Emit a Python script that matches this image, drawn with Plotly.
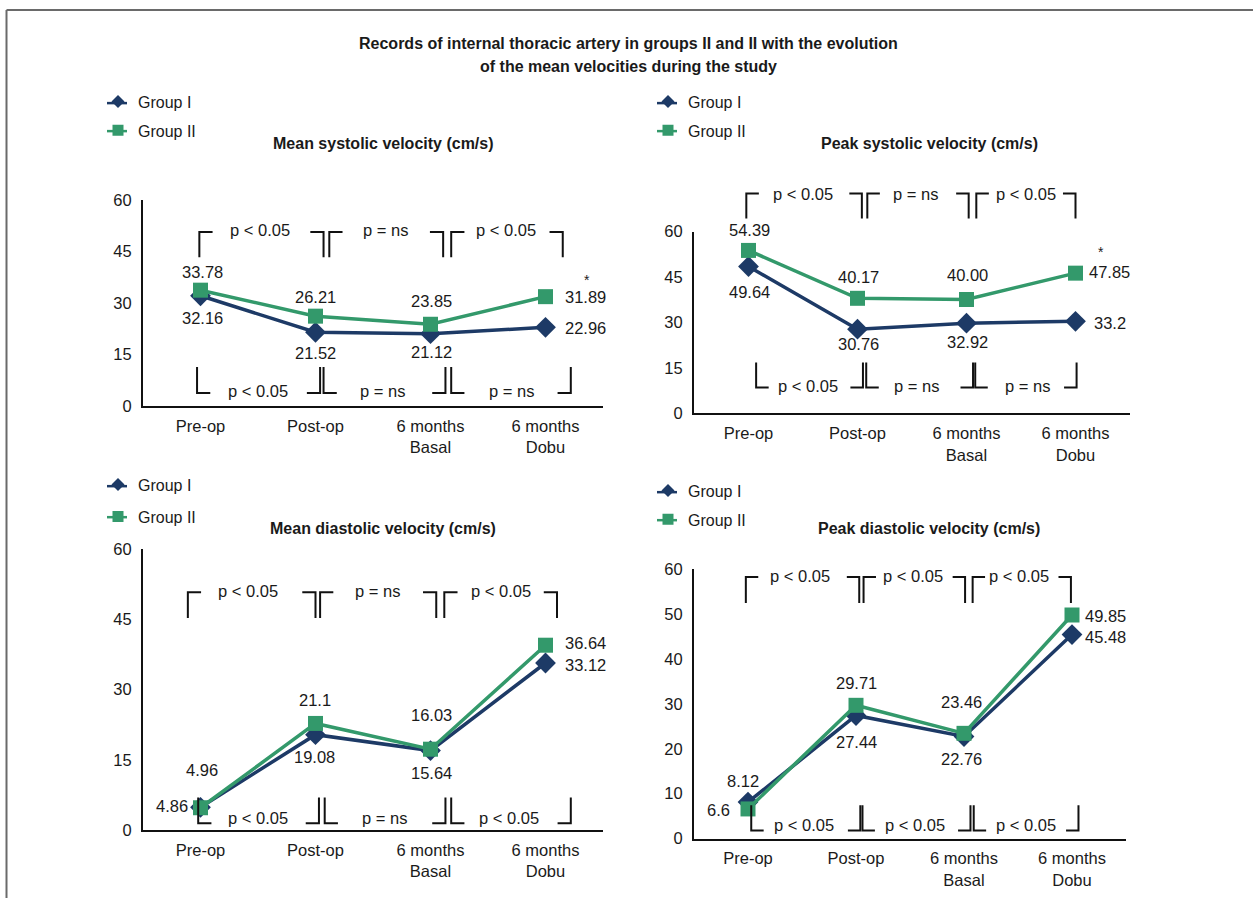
import plotly.graph_objects as go

# ---------------- data ----------------
categories = ["Pre-op", "Post-op", "6 months<br>Basal", "6 months<br>Dobu"]
groups = ["Group I", "Group II"]

# Mean systolic velocity
ms_g1 = [32.16, 21.52, 21.12, 22.96]
ms_g2 = [33.78, 26.21, 23.85, 31.89]
ms_g1_labels = ["32.16", "21.52", "21.12", "22.96"]
ms_g2_labels = ["33.78", "26.21", "23.85", "31.89"]

# Peak systolic velocity (plotted positions)
ps_g1 = [48.5, 27.8, 29.8, 30.4]
ps_g2 = [53.8, 38.0, 37.6, 46.3]
ps_g1_labels = ["49.64", "30.76", "32.92", "33.2"]
ps_g2_labels = ["54.39", "40.17", "40.00", "47.85"]

# Mean diastolic velocity
md_g1 = [4.9, 20.4, 17.0, 35.7]
md_g2 = [4.8, 22.8, 17.3, 39.5]
md_g1_labels = ["4.86", "19.08", "15.64", "33.12"]
md_g2_labels = ["4.96", "21.1", "16.03", "36.64"]

# Peak diastolic velocity
pd_g1 = [8.12, 27.44, 22.76, 45.48]
pd_g2 = [6.6, 29.71, 23.46, 49.85]
pd_g1_labels = ["8.12", "27.44", "22.76", "45.48"]
pd_g2_labels = ["6.6", "29.71", "23.46", "49.85"]

titles = ["Mean systolic velocity (cm/s)", "Peak systolic velocity (cm/s)",
          "Mean diastolic velocity (cm/s)", "Peak diastolic velocity (cm/s)"]
main_title = ["Records of internal thoracic artery in groups II and II with the evolution",
              "of the mean velocities during the study"]

ticks_15 = [0, 15, 30, 45, 60]
ticks_10 = [0, 10, 20, 30, 40, 50, 60]

ms_top_p = ["p < 0.05", "p = ns", "p < 0.05"]
ms_bot_p = ["p < 0.05", "p = ns", "p = ns"]
ps_top_p = ["p < 0.05", "p = ns", "p < 0.05"]
ps_bot_p = ["p < 0.05", "p = ns", "p = ns"]
md_top_p = ["p < 0.05", "p = ns", "p < 0.05"]
md_bot_p = ["p < 0.05", "p = ns", "p < 0.05"]
pd_top_p = ["p < 0.05", "p < 0.05", "p < 0.05"]
pd_bot_p = ["p < 0.05", "p < 0.05", "p < 0.05"]

# ---------------- styling ----------------
W, H = 1253, 907
# vertical calibration of the photographed page: shown_row = VA + VB * page_row
VA, VB = 8.9, 0.980
NAVY = "#1D3A66"
GREEN = "#33996B"
TXT = "#1a1a1a"
FONT = "Liberation Sans, Arial"
CFS = 16.5
LFONT = "Liberation Sans, Arial"


def prow(y_px):
    """target row -> page row"""
    return (y_px - VA) / VB


def pyp(y_px):
    """target row -> paper fraction"""
    return 1 - prow(y_px) / H


def sh(d):
    """target pixel offset -> page pixel offset"""
    return d / VB


# pixel boxes of plot areas: x0, x1, ytop, ybottom (target pixels)
boxes = [(143, 603, 200, 406), (694, 1130, 231.5, 413.3),
         (143, 603, 549, 830), (694, 1126, 569.3, 838.3)]
xr = [-0.5, 3.5]
yr = [0, 60]

panels = [
    dict(g1=ms_g1, g2=ms_g2, l1=ms_g1_labels, l2=ms_g2_labels, ticks=ticks_15,
         o1=[(2, -22, "center"), (0, -20, "center"), (1, -18, "center"), (17, -1, "left")],
         o2=[(2, 18, "center"), (0, 19, "center"), (1, 23, "center"), (17, 0, "left")],
         top=dict(yh=50.7, yv=43.4, xs=[(-0.01, 1.07), (1.12, 2.11), (2.18, 3.15)],
                  tx=[0.52, 1.61, 2.66], ty=51.2, labels=ms_top_p),
         bot=dict(yh=3.8, yv=11.4, xs=[(-0.03, 1.04), (1.07, 2.13), (2.18, 3.22)],
                  tx=[0.50, 1.58, 2.70], ty=4.4, labels=ms_bot_p),
         star=(3.36, 39.7), title_xy=(383, 143), leg=(117, 103, 131)),
    dict(g1=ps_g1, g2=ps_g2, l1=ps_g1_labels, l2=ps_g2_labels, ticks=ticks_15,
         o1=[(1, -25, "center"), (1, -14, "center"), (1, -18, "center"), (16, -2, "left")],
         o2=[(1, 20, "center"), (1, 21, "center"), (1, 24, "center"), (11, 1, "left")],
         top=dict(yh=72.6, yv=64.3, xs=[(-0.02, 1.04), (1.09, 2.02), (2.09, 3.0)],
                  tx=[0.5, 1.53, 2.55], ty=72.3, labels=ps_top_p),
         bot=dict(yh=8.6, yv=16.8, xs=[(0.07, 1.05), (1.08, 2.06), (2.08, 3.01)],
                  tx=[0.55, 1.54, 2.56], ty=9.0, labels=ps_bot_p),
         star=(3.28, 56.6), title_xy=(929, 143), leg=(667, 103, 131)),
    dict(g1=md_g1, g2=md_g2, l1=md_g1_labels, l2=md_g2_labels, ticks=ticks_15,
         o1=[(-11, 1, "right"), (-1, -22, "center"), (1, -22, "center"), (17, -2, "left")],
         o2=[(1, 37, "center"), (-1, 23, "center"), (1, 34, "center"), (17, 2, "left")],
         top=dict(yh=50.8, yv=45.3, xs=[(-0.11, 1.0), (1.04, 2.05), (2.12, 3.10)],
                  tx=[0.41, 1.54, 2.61], ty=51.1, labels=md_top_p),
         bot=dict(yh=1.5, yv=7.0, xs=[(-0.02, 1.03), (1.08, 2.13), (2.18, 3.22)],
                  tx=[0.5, 1.6, 2.68], ty=2.7, labels=md_bot_p),
         star=None, title_xy=(383, 528), leg=(117, 486, 517)),
    dict(g1=pd_g1, g2=pd_g2, l1=pd_g1_labels, l2=pd_g2_labels, ticks=ticks_10,
         o1=[(-5, 21, "center"), (0, -26, "center"), (-3, -22, "center"), (11, -2, "left")],
         o2=[(-16, -1, "right"), (0, 22, "center"), (-3, 31, "center"), (11, -1, "left")],
         top=dict(yh=58.3, yv=52.5, xs=[(-0.02, 1.03), (1.07, 2.01), (2.08, 2.99)],
                  tx=[0.48, 1.53, 2.51], ty=58.6, labels=pd_top_p),
         bot=dict(yh=1.8, yv=7.4, xs=[(0.03, 1.04), (1.06, 2.06), (2.09, 3.06)],
                  tx=[0.52, 1.55, 2.57], ty=3.0, labels=pd_bot_p),
         star=None, title_xy=(929, 528), leg=(667, 492, 520)),
]

fig = go.Figure()
annotations = []
shapes = []
ARM = 0.115

for i, (p, box) in enumerate(zip(panels, boxes)):
    n = i + 1
    sfx = "" if n == 1 else str(n)
    xa, ya = "x" + sfx, "y" + sfx
    x0, x1, yt, yb = box
    xdom = [x0 / W, x1 / W]
    ydom = [pyp(yb), pyp(yt)]

    def px(xv, xdom=xdom):
        return xdom[0] + (xv - xr[0]) / (xr[1] - xr[0]) * (xdom[1] - xdom[0])

    def py(yv, ydom=ydom):
        return ydom[0] + (yv - yr[0]) / (yr[1] - yr[0]) * (ydom[1] - ydom[0])

    fig.add_trace(go.Scatter(x=categories, y=p["g1"], mode="lines+markers", name=groups[0],
                             line=dict(color=NAVY, width=3.5),
                             marker=dict(symbol="diamond", size=16, color=NAVY),
                             xaxis=xa, yaxis=ya, showlegend=False, cliponaxis=False))
    fig.add_trace(go.Scatter(x=categories, y=p["g2"], mode="lines+markers", name=groups[1],
                             line=dict(color=GREEN, width=3.5),
                             marker=dict(symbol="square", size=15, color=GREEN),
                             xaxis=xa, yaxis=ya, showlegend=False, cliponaxis=False))
    # legend entries (marker only; short line drawn as a shape behind)
    legname = "legend" + sfx
    fig.add_trace(go.Scatter(x=[None], y=[None], mode="markers", name=groups[0],
                             marker=dict(symbol="diamond", size=10, color=NAVY),
                             xaxis=xa, yaxis=ya, legend=legname, legendgroup=f"a{n}"))
    fig.add_trace(go.Scatter(x=[None], y=[None], mode="markers", name=groups[1],
                             marker=dict(symbol="square", size=11, color=GREEN),
                             xaxis=xa, yaxis=ya, legend=legname, legendgroup=f"b{n}"))
    lx, ly1, ly2 = p["leg"]
    top_page = prow(ly1) - 19
    fig.update_layout({legname: dict(x=(lx - 20 + 1) / W, y=1 - top_page / H,
                                     xanchor="left", yanchor="top",
                                     font=dict(family=LFONT, size=16, color=TXT),
                                     bgcolor="rgba(0,0,0,0)", traceorder="grouped",
                                     tracegroupgap=4 + (sh(ly2 - ly1) - 27.5),
                                     itemclick=False)})
    for yy, col in ((ly1, NAVY), (ly2, GREEN)):
        shapes.append(dict(type="line", xref="paper", yref="paper",
                           x0=(lx - 10) / W, x1=(lx + 10) / W, y0=pyp(yy), y1=pyp(yy),
                           line=dict(color=col, width=2.5)))

    axis_common = dict(showgrid=False, zeroline=False, showline=True, linecolor="#111",
                       linewidth=2, ticks="", tickfont=dict(family=FONT, size=CFS, color=TXT))
    fig.update_layout({
        "xaxis" + sfx: dict(domain=xdom, range=xr, type="category", anchor=ya,
                            ticklabelstandoff=4, **axis_common),
        "yaxis" + sfx: dict(domain=ydom, range=yr, anchor=xa, tickvals=p["ticks"],
                            ticklabelstandoff=6, **axis_common),
    })

    # data labels
    for vals, labs, offs in ((p["g1"], p["l1"], p["o1"]), (p["g2"], p["l2"], p["o2"])):
        for k, (v, lab, (dx, dy, anc)) in enumerate(zip(vals, labs, offs)):
            annotations.append(dict(x=k, y=v, xref=xa, yref=ya, text=lab, showarrow=False,
                                    xanchor=anc, yanchor="middle", xshift=dx, yshift=sh(dy),
                                    font=dict(family=FONT, size=CFS, color=TXT)))

    # significance brackets
    for pos, br in (("top", p["top"]), ("bot", p["bot"])):
        for (xl, xrr), tx, lab in zip(br["xs"], br["tx"], br["labels"]):
            yh, yv = py(br["yh"]), py(br["yv"])
            path = (f"M{px(xl)},{yv} L{px(xl)},{yh} L{px(xl + ARM)},{yh} "
                    f"M{px(xrr - ARM)},{yh} L{px(xrr)},{yh} L{px(xrr)},{yv}")
            shapes.append(dict(type="path", path=path, xref="paper", yref="paper",
                               line=dict(color="#111", width=2)))
            annotations.append(dict(x=px(tx), y=py(br["ty"]), xref="paper", yref="paper",
                                    text=lab, showarrow=False, xanchor="center",
                                    yanchor="middle",
                                    font=dict(family=FONT, size=CFS, color=TXT)))
    if p["star"]:
        sx, sy = p["star"]
        annotations.append(dict(x=px(sx), y=py(sy), xref="paper", yref="paper", text="*",
                                showarrow=False, font=dict(family=LFONT, size=14, color=TXT)))

    tx_, ty_ = p["title_xy"]
    annotations.append(dict(x=tx_ / W, y=pyp(ty_), xref="paper", yref="paper",
                            text="<b>" + titles[i] + "</b>", showarrow=False,
                            xanchor="center", yanchor="middle",
                            font=dict(family=LFONT, size=16, color=TXT)))

for line_txt, yy in zip(main_title, (43, 66)):
    annotations.append(dict(x=628 / W, y=pyp(yy), xref="paper", yref="paper",
                            text="<b>" + line_txt + "</b>", showarrow=False,
                            xanchor="center", yanchor="middle",
                            font=dict(family=LFONT, size=16, color=TXT)))

# outer frame (top and left edges)
top_frame = 1 - 1.0 / H
shapes.append(dict(type="line", xref="paper", yref="paper", x0=6.5 / W, x1=1.0,
                   y0=top_frame, y1=top_frame, line=dict(color="#6a6a6a", width=2)))
shapes.append(dict(type="line", xref="paper", yref="paper", x0=6.5 / W, x1=6.5 / W,
                   y0=0, y1=top_frame, line=dict(color="#6a6a6a", width=2)))

fig.update_layout(width=W, height=H, margin=dict(l=0, r=0, t=0, b=0),
                  paper_bgcolor="white", plot_bgcolor="white",
                  annotations=annotations, shapes=shapes,
                  font=dict(family=LFONT, color=TXT))

fig.write_html(
    "out.html",
    config={"displayModeBar": False},
    post_script=("document.documentElement.style.margin='0';"
                 "document.body.style.margin='0';document.body.style.padding='0';"
                 "document.documentElement.style.overflow='hidden';"
                 "document.body.style.overflow='hidden';"),
)
